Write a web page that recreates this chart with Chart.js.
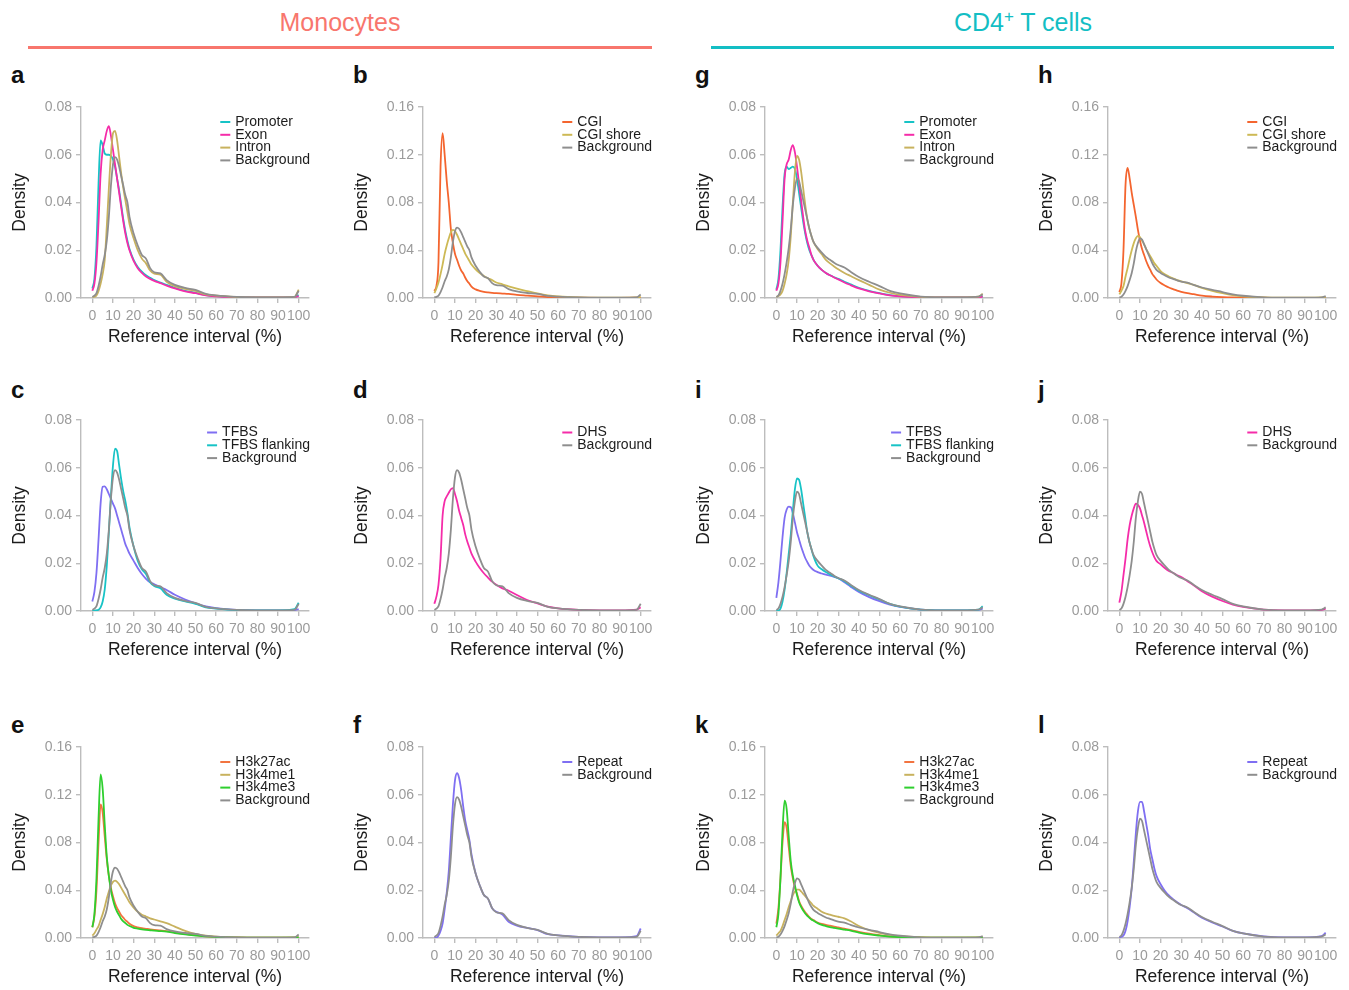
<!DOCTYPE html>
<html>
<head>
<meta charset="utf-8">
<script src="https://cdn.jsdelivr.net/npm/chart.js@4/dist/chart.umd.min.js"></script>
<style>
  body { margin: 0; background: #fff; width: 1349px; height: 990px; position: relative; overflow: hidden;
         font-family: "Liberation Sans", Arial, sans-serif; }
  canvas { position: absolute; }
  .head { position: absolute; top: 8px; width: 624px; text-align: center; font-size: 25px; line-height: 28px; }
  .rule { position: absolute; top: 46px; height: 3px; }
  .letter { position: absolute; font-size: 24px; font-weight: bold; line-height: 24px; color: #111; }
</style>
</head>
<body>
<div class="head" style="left:28px;color:#F8766D">Monocytes</div>
<div class="rule" style="left:28px;width:624px;background:#F8766D"></div>
<div class="head" style="left:711px;color:#13BEC4">CD4<sup style="font-size:17px;line-height:0">+</sup> T cells</div>
<div class="rule" style="left:711px;width:623px;background:#13BEC4"></div>

<script>
const xPoints = [0,1,2,3,4,5,6,7,8,9,10,11,12,13,14,15,16,17,18,20,22,24,26,28,30,33,36,40,45,50,55,60,70,80,90,98,100];
const xTicks = [0,10,20,30,40,50,60,70,80,90,100];
const yTicksNarrow = [0,0.02,0.04,0.06,0.08];
const yTicksWide = [0,0.04,0.08,0.12,0.16];

// Monocytes
const monoBackground = [0.0005,0.001,0.002,0.005,0.009,0.014,0.018,0.024,0.034,0.047,0.056,0.059,0.058,0.055,0.051,0.047,0.043,0.040,0.034, 0.027,0.022,0.018,0.0165,0.0125,0.0108, 0.0103,0.0075,0.0055,0.0042,0.0034,0.0017,0.0011, 0.0005,0.0003,0.0003,0.0005,0.003];
const monoPromoter = [0.004,0.008,0.022,0.048,0.066,0.064,0.0605,0.060,0.060,0.0595,0.058,0.055,0.050,0.045,0.039,0.033,0.028,0.024,0.0205, 0.016,0.013,0.011,0.0095,0.0085,0.0075, 0.0065,0.0055,0.0043,0.003,0.0022,0.0012,0.0008, 0.0003,0.0002,0.0002,0.0004,0.0012];
const monoExon = [0.003,0.006,0.015,0.032,0.052,0.062,0.066,0.070,0.072,0.068,0.062,0.056,0.050,0.044,0.038,0.032,0.027,0.023,0.020, 0.0155,0.0125,0.0105,0.009,0.008,0.0072, 0.0062,0.0052,0.004,0.0028,0.002,0.0011,0.0007, 0.0003,0.0002,0.0002,0.0004,0.0008];
const monoIntron = [0.0005,0.0005,0.001,0.003,0.006,0.01,0.016,0.03,0.046,0.06,0.069,0.070,0.066,0.059,0.052,0.046,0.041,0.036,0.031, 0.025,0.020,0.0165,0.0145,0.0115,0.0102, 0.0098,0.0068,0.005,0.0038,0.003,0.0015,0.001, 0.0004,0.0002,0.0002,0.0005,0.0035];
const monoCGI = [0.006,0.01,0.03,0.11,0.138,0.12,0.098,0.08,0.058,0.046,0.037,0.032,0.027,0.023,0.0205,0.017,0.014,0.012,0.0095, 0.0072,0.006,0.0052,0.0047,0.0043,0.004, 0.0037,0.0034,0.0027,0.002,0.0013,0.0008,0.0005, 0.0002,0.0001,0.0001,0.0002,0.0003];
const monoCGIShore = [0.004,0.008,0.013,0.02,0.028,0.037,0.044,0.05,0.055,0.057,0.056,0.053,0.049,0.045,0.041,0.037,0.034,0.031,0.028, 0.024,0.021,0.0185,0.0165,0.015,0.013, 0.0115,0.0098,0.0078,0.0058,0.0038,0.0022,0.0013, 0.0005,0.0003,0.0003,0.0005,0.001];
const monoTFBS = [0.004,0.008,0.016,0.03,0.045,0.052,0.0522,0.051,0.049,0.047,0.045,0.043,0.040,0.037,0.034,0.031,0.028,0.026,0.024, 0.021,0.018,0.0155,0.0135,0.012,0.0112, 0.010,0.0088,0.0068,0.0048,0.0032,0.0019,0.0012, 0.0005,0.0003,0.0003,0.0004,0.0008];
const monoTFBSFlank = [0,0.0002,0.0003,0.0005,0.0015,0.004,0.009,0.019,0.033,0.048,0.061,0.068,0.067,0.061,0.055,0.05,0.046,0.041,0.035, 0.027,0.021,0.0175,0.0155,0.012,0.0105, 0.0095,0.0068,0.0052,0.004,0.003,0.0015,0.001, 0.0004,0.0003,0.0003,0.0008,0.0035];
const monoDHS = [0.003,0.006,0.011,0.022,0.040,0.046,0.048,0.0495,0.051,0.0515,0.049,0.046,0.042,0.039,0.036,0.032,0.029,0.0265,0.024, 0.0207,0.018,0.0158,0.014,0.0123,0.011, 0.0095,0.0085,0.0067,0.0046,0.0032,0.0018,0.0011, 0.0005,0.0003,0.0003,0.0006,0.0015];
const monoH3k27ac = [0.009,0.018,0.04,0.08,0.112,0.105,0.085,0.066,0.052,0.042,0.035,0.029,0.025,0.022,0.019,0.017,0.015,0.0135,0.012, 0.010,0.009,0.0082,0.0077,0.0072,0.0068, 0.0064,0.0058,0.0045,0.0034,0.0024,0.0014,0.0009, 0.0004,0.0002,0.0002,0.0003,0.0005];
const monoH3k4me1 = [0.002,0.004,0.007,0.01,0.015,0.02,0.026,0.033,0.039,0.044,0.047,0.048,0.047,0.045,0.042,0.039,0.036,0.033,0.030, 0.0255,0.022,0.0195,0.018,0.0165,0.0155, 0.014,0.0125,0.0095,0.006,0.0035,0.002,0.0012, 0.0005,0.0003,0.0003,0.0004,0.0008];
const monoH3k4me3 = [0.009,0.02,0.05,0.1,0.137,0.125,0.095,0.068,0.052,0.04,0.032,0.026,0.022,0.019,0.016,0.014,0.0125,0.011,0.010, 0.0085,0.0078,0.0072,0.0068,0.0065,0.0062, 0.0058,0.0053,0.0042,0.003,0.0021,0.0013,0.0008, 0.0003,0.0002,0.0002,0.0003,0.0004];
const monoRepeat = [0.0001,0.0002,0.001,0.003,0.006,0.012,0.019,0.028,0.042,0.056,0.066,0.069,0.067,0.062,0.055,0.049,0.045,0.041,0.035, 0.027,0.022,0.018,0.0165,0.0125,0.011, 0.0098,0.0068,0.0052,0.0042,0.0033,0.0016,0.0011, 0.0005,0.0003,0.0003,0.0008,0.004];

// CD4+ T cells
const cd4Background = [0.0005,0.001,0.003,0.006,0.01,0.015,0.021,0.029,0.039,0.046,0.050,0.049,0.045,0.041,0.037,0.033,0.029,0.026,0.0235, 0.021,0.019,0.0172,0.016,0.0148,0.0138, 0.0128,0.011,0.0088,0.0068,0.005,0.003,0.0019, 0.0006,0.0003,0.0003,0.0006,0.0015];
const cd4Promoter = [0.0035,0.008,0.02,0.038,0.052,0.055,0.054,0.0545,0.055,0.054,0.050,0.044,0.038,0.032,0.027,0.023,0.020,0.018,0.016, 0.0135,0.0118,0.0105,0.0095,0.0087,0.008, 0.0068,0.0057,0.0043,0.003,0.002,0.0012,0.0008, 0.0004,0.0002,0.0002,0.0004,0.0008];
const cd4Exon = [0.003,0.006,0.015,0.032,0.05,0.056,0.058,0.062,0.064,0.061,0.055,0.048,0.041,0.034,0.028,0.024,0.021,0.018,0.016, 0.0135,0.0118,0.0105,0.0095,0.0086,0.0078, 0.0065,0.0054,0.004,0.0028,0.0019,0.0011,0.0007, 0.0003,0.0002,0.0002,0.0003,0.0006];
const cd4Intron = [0.0005,0.0008,0.0015,0.003,0.006,0.01,0.016,0.026,0.04,0.053,0.0595,0.058,0.053,0.046,0.039,0.033,0.029,0.026,0.0235, 0.0205,0.0183,0.016,0.0145,0.0132,0.012, 0.0105,0.0092,0.0075,0.0055,0.0035,0.0022,0.0013, 0.0005,0.0003,0.0003,0.0006,0.0018];
const cd4CGI = [0.005,0.012,0.04,0.095,0.109,0.1,0.088,0.078,0.068,0.057,0.048,0.041,0.036,0.031,0.027,0.0235,0.020,0.0178,0.0155, 0.0125,0.0105,0.0088,0.0075,0.0062,0.0052, 0.004,0.0032,0.002,0.0012,0.0007,0.0004,0.0003, 0.0002,0.0001,0.0001,0.0001,0.0002];
const cd4CGIShore = [0.003,0.006,0.01,0.018,0.025,0.033,0.04,0.046,0.05,0.052,0.051,0.048,0.045,0.041,0.038,0.035,0.032,0.029,0.027, 0.0225,0.0198,0.018,0.0165,0.015,0.014, 0.0125,0.011,0.0085,0.006,0.004,0.0024,0.0014, 0.0005,0.0003,0.0003,0.0005,0.0008];
const cd4TFBS = [0.0055,0.012,0.021,0.031,0.039,0.0425,0.0437,0.0435,0.041,0.037,0.033,0.030,0.027,0.0245,0.0222,0.0205,0.019,0.018,0.0172, 0.0163,0.0157,0.0152,0.0148,0.0143,0.0137, 0.012,0.0102,0.008,0.0058,0.0041,0.0027,0.0017, 0.0006,0.0003,0.0003,0.0005,0.001];
const cd4TFBSFlank = [0,0.0002,0.001,0.004,0.009,0.016,0.024,0.032,0.042,0.051,0.0555,0.055,0.051,0.045,0.039,0.033,0.029,0.026,0.023, 0.019,0.0175,0.0163,0.0153,0.0145,0.0137, 0.0125,0.0107,0.0085,0.0066,0.0048,0.003,0.0018, 0.0006,0.0003,0.0003,0.0006,0.002];
const cd4DHS = [0.0035,0.008,0.015,0.022,0.03,0.036,0.040,0.043,0.045,0.0445,0.043,0.040,0.037,0.0335,0.030,0.027,0.0245,0.0225,0.021, 0.0195,0.018,0.0168,0.016,0.015,0.0142, 0.0125,0.0108,0.0083,0.006,0.0042,0.0027,0.0017, 0.0006,0.0003,0.0003,0.0005,0.001];
const cd4H3k27ac = [0.012,0.025,0.05,0.08,0.097,0.092,0.076,0.06,0.05,0.042,0.037,0.031,0.027,0.024,0.0215,0.0195,0.0175,0.016,0.015, 0.013,0.0118,0.011,0.0103,0.0095,0.0088, 0.0078,0.0068,0.0052,0.0036,0.0024,0.0014,0.0009, 0.0004,0.0002,0.0002,0.0003,0.0004];
const cd4H3k4me1 = [0.002,0.004,0.006,0.01,0.015,0.02,0.026,0.031,0.036,0.039,0.0405,0.0405,0.039,0.037,0.035,0.033,0.031,0.029,0.027, 0.0245,0.022,0.0205,0.0195,0.0185,0.0178, 0.0165,0.014,0.010,0.0065,0.0042,0.0026,0.0015, 0.0006,0.0003,0.0003,0.0004,0.0008];
const cd4H3k4me3 = [0.009,0.02,0.05,0.09,0.115,0.108,0.085,0.064,0.052,0.044,0.036,0.03,0.026,0.023,0.0205,0.0185,0.017,0.0155,0.0145, 0.0125,0.011,0.01,0.0092,0.0085,0.0078, 0.007,0.0062,0.0045,0.003,0.002,0.0012,0.0007, 0.0003,0.0002,0.0002,0.0003,0.0003];
const cd4Repeat = [0,0.0005,0.001,0.003,0.007,0.013,0.021,0.032,0.044,0.053,0.057,0.057,0.053,0.048,0.043,0.037,0.033,0.029,0.026, 0.0225,0.0198,0.0178,0.0163,0.015,0.0138, 0.0125,0.0108,0.0085,0.0065,0.0048,0.003,0.0019, 0.0007,0.0003,0.0003,0.0008,0.0022];

const CYAN = '#17C3C6', PINK = '#F52CA9', GOLD = '#C8B25E', GREY = '#8E8E8E';
const ORANGE = '#F4652F', SHORE = '#CDB955', PURPLE = '#7F6FF2', GREEN = '#2ECF2E', ORANGE2 = '#F27440';
const TICK_GREY = '#9b9b9b', AXIS_GREY = '#bdbdbd', INK = '#1c1c1c';

const colLeft = [0, 342, 684, 1027];
const plotTop = [107, 419.5, 747];
const letterTop = [63, 378, 713];
const legendDy = [15, 12.5, 15];

const panels = [
  { id: 'a', col: 0, row: 0, yMax: 0.08, series: [['Promoter', monoPromoter, CYAN], ['Exon', monoExon, PINK], ['Intron', monoIntron, GOLD], ['Background', monoBackground, GREY]] },
  { id: 'b', col: 1, row: 0, yMax: 0.16, series: [['CGI', monoCGI, ORANGE], ['CGI shore', monoCGIShore, SHORE], ['Background', monoBackground, GREY]] },
  { id: 'g', col: 2, row: 0, yMax: 0.08, series: [['Promoter', cd4Promoter, CYAN], ['Exon', cd4Exon, PINK], ['Intron', cd4Intron, GOLD], ['Background', cd4Background, GREY]] },
  { id: 'h', col: 3, row: 0, yMax: 0.16, series: [['CGI', cd4CGI, ORANGE], ['CGI shore', cd4CGIShore, SHORE], ['Background', cd4Background, GREY]] },
  { id: 'c', col: 0, row: 1, yMax: 0.08, series: [['TFBS', monoTFBS, PURPLE], ['TFBS flanking', monoTFBSFlank, CYAN], ['Background', monoBackground, GREY]] },
  { id: 'd', col: 1, row: 1, yMax: 0.08, series: [['DHS', monoDHS, PINK], ['Background', monoBackground, GREY]] },
  { id: 'i', col: 2, row: 1, yMax: 0.08, series: [['TFBS', cd4TFBS, PURPLE], ['TFBS flanking', cd4TFBSFlank, CYAN], ['Background', cd4Background, GREY]] },
  { id: 'j', col: 3, row: 1, yMax: 0.08, series: [['DHS', cd4DHS, PINK], ['Background', cd4Background, GREY]] },
  { id: 'e', col: 0, row: 2, yMax: 0.16, series: [['H3k27ac', monoH3k27ac, ORANGE2], ['H3k4me1', monoH3k4me1, GOLD], ['H3k4me3', monoH3k4me3, GREEN], ['Background', monoBackground, GREY]] },
  { id: 'f', col: 1, row: 2, yMax: 0.08, series: [['Repeat', monoRepeat, PURPLE], ['Background', monoBackground, GREY]] },
  { id: 'k', col: 2, row: 2, yMax: 0.16, series: [['H3k27ac', cd4H3k27ac, ORANGE2], ['H3k4me1', cd4H3k4me1, GOLD], ['H3k4me3', cd4H3k4me3, GREEN], ['Background', cd4Background, GREY]] },
  { id: 'l', col: 3, row: 2, yMax: 0.08, series: [['Repeat', cd4Repeat, PURPLE], ['Background', cd4Background, GREY]] },
];

Chart.defaults.font.family = '"Liberation Sans", Arial, sans-serif';

// legend drawn inside the plot, right aligned, like the ggplot originals
const insideLegend = {
  id: 'insideLegend',
  afterDraw(chart, args, opts) {
    const { ctx, chartArea } = chart;
    const items = chart.data.datasets;
    ctx.save();
    ctx.font = '14px "Liberation Sans", Arial, sans-serif';
    const textW = Math.max(...items.map(d => ctx.measureText(d.label).width));
    const textX = chartArea.right + 1 - textW;
    items.forEach((d, i) => {
      const y = chartArea.top + opts.dy + i * 12.8;
      ctx.strokeStyle = d.borderColor;
      ctx.lineWidth = 2;
      ctx.beginPath();
      ctx.moveTo(textX - 15, y);
      ctx.lineTo(textX - 5, y);
      ctx.stroke();
      ctx.fillStyle = INK;
      ctx.textBaseline = 'middle';
      ctx.fillText(d.label, textX, y);
    });
    ctx.restore();
  }
};

const axisCommon = {
  grid: { drawOnChartArea: false, tickLength: 5, color: AXIS_GREY, lineWidth: 1.4 },
  border: { color: AXIS_GREY, width: 1.4 },
};

panels.forEach(p => {
  const left = colLeft[p.col];
  const top = plotTop[p.row] - 17;

  const letter = document.createElement('div');
  letter.className = 'letter';
  letter.textContent = p.id;
  letter.style.left = (left + 11) + 'px';
  letter.style.top = letterTop[p.row] + 'px';
  document.body.appendChild(letter);

  const canvas = document.createElement('canvas');
  canvas.width = 330;
  canvas.height = 260;
  canvas.style.left = left + 'px';
  canvas.style.top = top + 'px';
  document.body.appendChild(canvas);

  const yTicks = p.yMax > 0.1 ? yTicksWide : yTicksNarrow;

  new Chart(canvas, {
    type: 'line',
    data: {
      datasets: p.series.map(([label, values, color], i) => ({
        label,
        data: values.map((y, k) => ({ x: xPoints[k], y })),
        borderColor: color,
        borderWidth: 1.8,
        pointRadius: 0,
        fill: false,
        cubicInterpolationMode: 'monotone',
        order: p.series.length - i
      }))
    },
    options: {
      responsive: false,
      animation: false,
      events: [],
      layout: { padding: { top: 17, right: 21, left: 0, bottom: 0 } },
      plugins: {
        legend: { display: false },
        tooltip: { enabled: false },
        insideLegend: { dy: legendDy[p.row] }
      },
      scales: {
        x: {
          ...axisCommon,
          type: 'linear',
          min: -5.5,
          max: 105,
          afterBuildTicks: s => { s.ticks = xTicks.map(v => ({ value: v })); },
          afterFit: s => { s.height = 52; },
          ticks: { autoSkip: false, maxRotation: 0, padding: 5, color: TICK_GREY, font: { size: 14 }, callback: v => String(v) },
          title: { display: true, text: 'Reference interval (%)', color: INK, font: { size: 17.5 }, padding: { top: 0, bottom: 2.5 } }
        },
        y: {
          ...axisCommon,
          min: 0,
          max: p.yMax,
          afterBuildTicks: s => { s.ticks = yTicks.map(v => ({ value: v })); },
          afterFit: s => { s.width = 81; },
          ticks: { padding: 4, color: TICK_GREY, font: { size: 14 }, callback: v => v.toFixed(2) },
          title: { display: true, text: 'Density', color: INK, font: { size: 17.5 }, padding: { top: 10, bottom: 0 } }
        }
      }
    },
    plugins: [insideLegend]
  });
});
</script>
</body>
</html>
